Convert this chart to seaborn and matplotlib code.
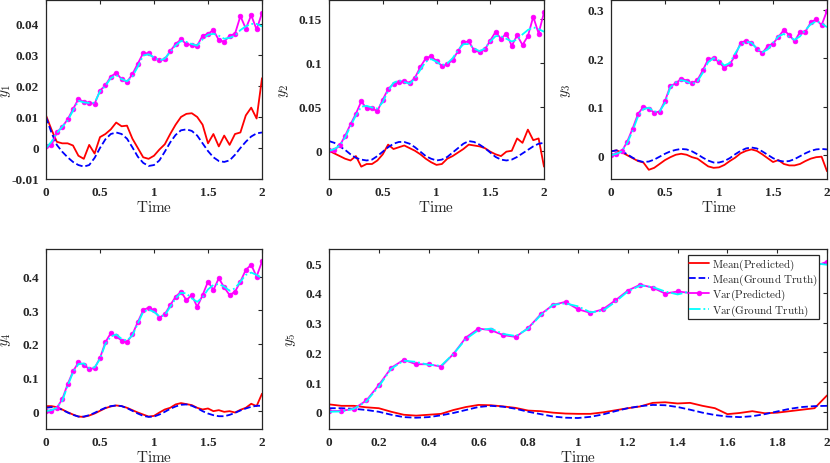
import numpy as np
import pandas as pd
import matplotlib
matplotlib.use("Agg")
import matplotlib.pyplot as plt
import seaborn as sns
from matplotlib.ticker import FuncFormatter

# time grid (every 0.05)
t = [round(0.05 * i, 2) for i in range(41)]

# y1
y1_mean_pred = [0.0105, 0.0060, 0.0020, 0.0015, 0.0015, 0.0008, -0.0025, -0.0035, 0.0010, -0.0018,
                0.0035, 0.0045, 0.0060, 0.0082, 0.0070, 0.0072, 0.0030, 0.0000, -0.0030, -0.0035,
                -0.0025, -0.0005, 0.0012, 0.0045, 0.0075, 0.0100, 0.0110, 0.0112, 0.0100, 0.0075,
                0.0015, 0.0045, 0.0005, 0.0040, 0.0010, 0.0045, 0.0050, 0.0105, 0.0130, 0.0095, 0.0225]
y1_mean_true = [0.0100, 0.0050, 0.0010, -0.0012, -0.0030, -0.0045, -0.0055, -0.0060, -0.0055, -0.0032,
                0.0000, 0.0028, 0.0045, 0.0050, 0.0045, 0.0030, 0.0002, -0.0028, -0.0048, -0.0058,
                -0.0055, -0.0040, -0.0012, 0.0018, 0.0042, 0.0057, 0.0060, 0.0055, 0.0040, 0.0015,
                -0.0010, -0.0030, -0.0042, -0.0045, -0.0040, -0.0022, 0.0000, 0.0020, 0.0037, 0.0047, 0.0050]
y1_var_pred = [0.0005, 0.0008, 0.0050, 0.0068, 0.0092, 0.0125, 0.0158, 0.0148, 0.0146, 0.0142,
               0.0185, 0.0202, 0.0230, 0.0242, 0.0222, 0.0213, 0.0238, 0.0272, 0.0306, 0.0305,
               0.0290, 0.0282, 0.0286, 0.0312, 0.0335, 0.0350, 0.0335, 0.0332, 0.0330, 0.0362,
               0.0368, 0.0380, 0.0348, 0.0342, 0.0362, 0.0368, 0.0425, 0.0385, 0.0428, 0.0382, 0.0435]
y1_var_true = [0.0000, 0.0020, 0.0048, 0.0068, 0.0088, 0.0120, 0.0152, 0.0147, 0.0145, 0.0146,
               0.0182, 0.0200, 0.0225, 0.0235, 0.0222, 0.0215, 0.0230, 0.0262, 0.0298, 0.0302,
               0.0292, 0.0282, 0.0288, 0.0310, 0.0330, 0.0345, 0.0342, 0.0335, 0.0330, 0.0350,
               0.0365, 0.0368, 0.0362, 0.0352, 0.0355, 0.0362, 0.0380, 0.0392, 0.0400, 0.0400, 0.0392]

# y2
y2_mean_pred = [0.000, -0.003, -0.006, -0.009, -0.011, -0.006, -0.018, -0.015, -0.015, -0.011,
                -0.004, 0.007, 0.002, 0.004, 0.006, 0.003, 0.000, -0.004, -0.009, -0.013,
                -0.016, -0.015, -0.009, -0.006, -0.002, 0.002, 0.007, 0.006, 0.005, 0.003,
                -0.001, -0.004, -0.006, -0.001, 0.000, 0.014, 0.009, 0.024, 0.012, 0.014, -0.018]
y2_mean_true = [0.011, 0.009, 0.005, 0.001, -0.004, -0.008, -0.010, -0.011, -0.010, -0.006,
                -0.001, 0.004, 0.008, 0.010, 0.010, 0.008, 0.004, -0.001, -0.006, -0.009,
                -0.011, -0.010, -0.007, -0.002, 0.003, 0.008, 0.011, 0.010, 0.007, 0.003,
                -0.002, -0.007, -0.010, -0.011, -0.010, -0.007, -0.003, 0.001, 0.005, 0.008, 0.009]
y2_var_pred = [0.001, 0.001, 0.006, 0.017, 0.030, 0.042, 0.056, 0.048, 0.048, 0.045,
               0.058, 0.070, 0.076, 0.078, 0.079, 0.077, 0.083, 0.095, 0.105, 0.107,
               0.102, 0.096, 0.098, 0.103, 0.113, 0.123, 0.124, 0.114, 0.112, 0.115,
               0.125, 0.135, 0.127, 0.133, 0.119, 0.131, 0.120, 0.130, 0.152, 0.133, 0.157]
y2_var_true = [0.000, 0.002, 0.006, 0.015, 0.028, 0.040, 0.050, 0.051, 0.049, 0.048,
               0.055, 0.068, 0.077, 0.080, 0.078, 0.076, 0.082, 0.092, 0.101, 0.104,
               0.101, 0.097, 0.099, 0.105, 0.114, 0.121, 0.121, 0.116, 0.113, 0.116,
               0.124, 0.130, 0.130, 0.127, 0.124, 0.126, 0.132, 0.137, 0.140, 0.138, 0.135]

# y3
y3_mean_pred = [0.008, 0.010, 0.006, 0.000, -0.006, -0.012, -0.015, -0.030, -0.026, -0.018,
                -0.010, -0.004, 0.001, 0.003, 0.001, -0.004, -0.007, -0.015, -0.023, -0.026,
                -0.025, -0.020, -0.012, -0.005, 0.004, 0.009, 0.012, 0.009, 0.002, -0.006,
                -0.014, -0.010, -0.018, -0.021, -0.021, -0.018, -0.012, -0.007, -0.004, -0.003, -0.033]
y3_mean_true = [0.008, 0.010, 0.008, 0.002, -0.005, -0.011, -0.014, -0.013, -0.009, -0.003,
                0.003, 0.008, 0.011, 0.013, 0.012, 0.008, 0.002, -0.005, -0.011, -0.015,
                -0.015, -0.012, -0.006, 0.002, 0.009, 0.014, 0.016, 0.014, 0.008, 0.001,
                -0.006, -0.011, -0.013, -0.012, -0.008, -0.002, 0.004, 0.009, 0.012, 0.013, 0.012]
y3_var_pred = [0.001, 0.002, 0.008, 0.028, 0.055, 0.085, 0.100, 0.096, 0.088, 0.090,
               0.112, 0.143, 0.148, 0.158, 0.154, 0.148, 0.155, 0.175, 0.198, 0.200,
               0.192, 0.180, 0.188, 0.205, 0.232, 0.236, 0.232, 0.220, 0.210, 0.225,
               0.230, 0.244, 0.258, 0.248, 0.235, 0.254, 0.255, 0.274, 0.280, 0.268, 0.298]
y3_var_true = [0.000, 0.003, 0.008, 0.025, 0.050, 0.080, 0.095, 0.098, 0.090, 0.090,
               0.108, 0.140, 0.150, 0.155, 0.152, 0.147, 0.152, 0.170, 0.192, 0.200,
               0.195, 0.185, 0.190, 0.210, 0.228, 0.234, 0.232, 0.220, 0.212, 0.218,
               0.232, 0.245, 0.250, 0.244, 0.238, 0.245, 0.258, 0.270, 0.276, 0.272, 0.264]

# y4
y4_mean_pred = [0.015, 0.015, 0.012, 0.005, -0.003, -0.010, -0.016, -0.017, -0.013, -0.007,
                0.001, 0.009, 0.014, 0.017, 0.015, 0.010, 0.003, -0.004, -0.010, -0.016,
                -0.014, -0.004, 0.005, 0.010, 0.020, 0.024, 0.021, 0.018, 0.010, 0.005,
                0.008, 0.000, 0.003, -0.002, 0.000, -0.004, 0.004, 0.010, 0.022, 0.015, 0.052]
y4_mean_true = [0.010, 0.012, 0.010, 0.004, -0.004, -0.011, -0.016, -0.016, -0.012, -0.005,
                0.003, 0.010, 0.015, 0.017, 0.015, 0.009, 0.001, -0.007, -0.014, -0.017,
                -0.016, -0.010, -0.002, 0.007, 0.014, 0.019, 0.020, 0.016, 0.009, 0.000,
                -0.007, -0.012, -0.015, -0.015, -0.011, -0.005, 0.002, 0.008, 0.013, 0.016, 0.016]
y4_var_pred = [0.000, 0.000, 0.010, 0.035, 0.080, 0.118, 0.145, 0.138, 0.125, 0.128,
               0.158, 0.205, 0.232, 0.222, 0.210, 0.205, 0.228, 0.265, 0.300, 0.308,
               0.300, 0.278, 0.288, 0.315, 0.340, 0.355, 0.330, 0.345, 0.310, 0.345,
               0.385, 0.360, 0.395, 0.368, 0.345, 0.355, 0.385, 0.420, 0.435, 0.400, 0.445]
y4_var_true = [0.000, 0.003, 0.010, 0.030, 0.075, 0.115, 0.140, 0.142, 0.128, 0.130,
               0.155, 0.200, 0.222, 0.228, 0.215, 0.210, 0.225, 0.260, 0.295, 0.302,
               0.295, 0.282, 0.285, 0.310, 0.335, 0.352, 0.350, 0.335, 0.325, 0.338,
               0.362, 0.375, 0.378, 0.370, 0.358, 0.365, 0.385, 0.405, 0.412, 0.405, 0.395]

# y5
y5_mean_pred = [0.025, 0.020, 0.020, 0.015, 0.012, 0.000, -0.010, -0.013, -0.010, -0.007,
                0.006, 0.016, 0.023, 0.022, 0.018, 0.013, 0.004, 0.002, -0.003, -0.006,
                -0.007, -0.007, -0.002, 0.005, 0.012, 0.018, 0.030, 0.032, 0.028, 0.030,
                0.020, 0.012, -0.008, -0.004, 0.002, -0.005, -0.003, 0.002, 0.007, 0.012, 0.055]
y5_mean_true = [0.012, 0.012, 0.010, 0.006, 0.000, -0.010, -0.018, -0.020, -0.018, -0.012,
                -0.004, 0.006, 0.016, 0.020, 0.017, 0.010, 0.000, -0.008, -0.016, -0.020,
                -0.021, -0.017, -0.009, 0.002, 0.012, 0.019, 0.023, 0.022, 0.016, 0.007,
                -0.003, -0.011, -0.016, -0.018, -0.015, -0.008, 0.001, 0.010, 0.016, 0.019, 0.020]
y5_var_pred = [0.002, 0.003, 0.010, 0.038, 0.090, 0.148, 0.175, 0.160, 0.160, 0.152,
               0.195, 0.250, 0.280, 0.275, 0.258, 0.252, 0.282, 0.328, 0.360, 0.370,
               0.345, 0.333, 0.345, 0.375, 0.408, 0.428, 0.418, 0.398, 0.405, 0.400,
               0.425, 0.440, 0.435, 0.450, 0.445, 0.460, 0.475, 0.480, 0.495, 0.490, 0.505]
y5_var_true = [0.000, 0.001, 0.010, 0.035, 0.085, 0.145, 0.172, 0.168, 0.158, 0.155,
               0.195, 0.245, 0.275, 0.280, 0.262, 0.255, 0.280, 0.325, 0.360, 0.365,
               0.355, 0.335, 0.340, 0.370, 0.405, 0.425, 0.420, 0.405, 0.395, 0.405,
               0.420, 0.435, 0.440, 0.440, 0.445, 0.455, 0.470, 0.485, 0.495, 0.500, 0.495]

labels = ["Mean(Predicted)", "Mean(Ground Truth)", "Var(Predicted)", "Var(Ground Truth)"]

sns.set_theme(style="white")
plt.rcParams["font.family"] = ["Liberation Serif", "DejaVu Serif"]
plt.rcParams["mathtext.fontset"] = "cm"
plt.rcParams["axes.unicode_minus"] = False

fig = plt.figure(figsize=(8.3, 4.64), dpi=100)
W, H = 830, 464


def add_ax(left, top, right, bottom):
    return fig.add_axes([left / W, 1 - bottom / H, (right - left) / W, (bottom - top) / H])


panels = [
    # axes box (px), series, ylim, yticks, xticks, ylabel x-position
    (add_ax(46, 1, 262, 180), (y1_mean_pred, y1_mean_true, y1_var_pred, y1_var_true),
     (-0.01, 0.0477), [-0.01, 0, 0.01, 0.02, 0.03, 0.04], [0, 0.5, 1, 1.5, 2], r"$y_1$", -0.155),
    (add_ax(329, 1, 544, 180), (y2_mean_pred, y2_mean_true, y2_var_pred, y2_var_true),
     (-0.032, 0.171), [0, 0.05, 0.1, 0.15], [0, 0.5, 1, 1.5, 2], r"$y_2$", -0.177),
    (add_ax(611, 1, 827, 180), (y3_mean_pred, y3_mean_true, y3_var_pred, y3_var_true),
     (-0.049, 0.32), [0, 0.1, 0.2, 0.3], [0, 0.5, 1, 1.5, 2], r"$y_3$", -0.176),
    (add_ax(46, 250, 262, 430), (y4_mean_pred, y4_mean_true, y4_var_pred, y4_var_true),
     (-0.053, 0.482), [0, 0.1, 0.2, 0.3, 0.4], [0, 0.5, 1, 1.5, 2], r"$y_4$", -0.153),
    (add_ax(329, 250, 827, 430), (y5_mean_pred, y5_mean_true, y5_var_pred, y5_var_true),
     (-0.058, 0.548), [0, 0.1, 0.2, 0.3, 0.4, 0.5],
     [0, 0.2, 0.4, 0.6, 0.8, 1, 1.2, 1.4, 1.6, 1.8, 2], r"$y_5$", -0.062),
]

for ax, series, ylim, yticks, xticks, ylab, ylab_x in panels:
    mean_pred, mean_true, var_pred, var_true = series
    sns.lineplot(x=t, y=mean_pred, ax=ax, color="#ff0000", linewidth=1.3)
    sns.lineplot(x=t, y=mean_true, ax=ax, color="#0000ff", linewidth=1.3, linestyle="--")
    sns.lineplot(x=t, y=var_pred, ax=ax, color="#ff00ff", linewidth=1.3, marker="o",
                 markersize=3.4, markeredgecolor="#ff00ff", markeredgewidth=0.5)
    sns.lineplot(x=t, y=var_true, ax=ax, color="#00ffff", linewidth=1.3, linestyle="-.")

    ax.set_xlim(0, 2)
    ax.set_ylim(*ylim)
    ax.set_xticks(xticks)
    ax.set_yticks(yticks)
    ax.xaxis.set_major_formatter(FuncFormatter(lambda v, p: "%g" % round(v, 4)))
    ax.yaxis.set_major_formatter(FuncFormatter(lambda v, p: "%g" % round(v, 4)))
    ax.tick_params(direction="in", length=3, width=0.8, top=True, right=True,
                   labelsize=9.5, pad=5, color="#262626")
    for lbl in ax.get_xticklabels() + ax.get_yticklabels():
        lbl.set_fontweight("bold")
    for sp in ax.spines.values():
        sp.set_color("#262626")
        sp.set_linewidth(0.9)
    ax.set_xlabel(r"$\mathrm{Time}$", fontsize=11, labelpad=1)
    ax.set_ylabel(ylab, fontsize=11)
    ax.yaxis.set_label_coords(ylab_x, 0.5)
    ax.grid(False)

ax5 = panels[-1][0]
handles = ax5.get_lines()[:4]
leg = ax5.legend(handles, [r"$\mathrm{%s}$" % s.replace(" ", r"\ ") for s in labels],
                 loc="upper right", bbox_to_anchor=(0.984, 0.967), fontsize=8,
                 frameon=True, fancybox=False, framealpha=1, edgecolor="#262626",
                 borderpad=0.15, labelspacing=0.0, handlelength=1.8, handletextpad=0.2,
                 borderaxespad=0)
leg.get_frame().set_linewidth(0.9)

fig.savefig("out.png", dpi=100)
